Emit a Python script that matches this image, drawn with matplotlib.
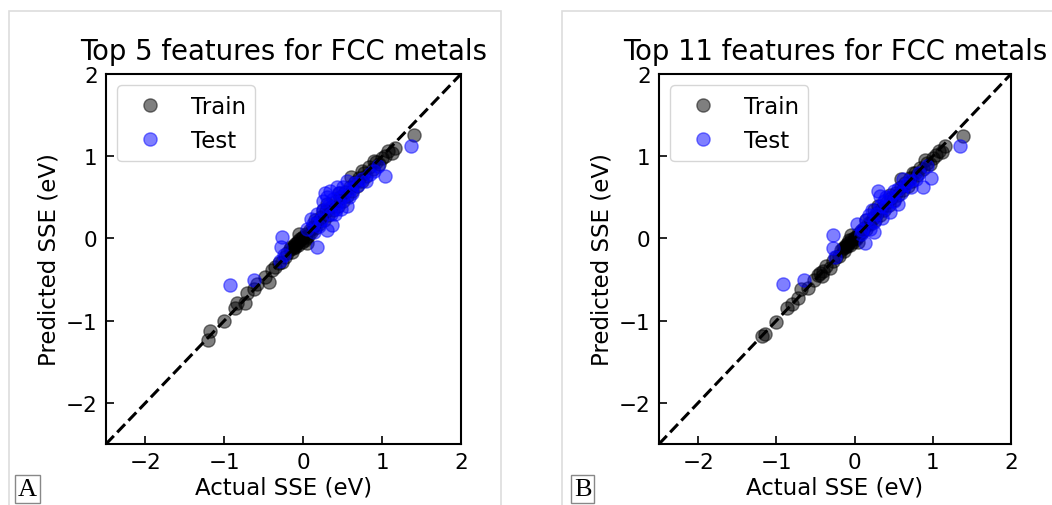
import matplotlib.pyplot as plt
from matplotlib.patches import Rectangle

# Panel A: top 5 features
train_a_actual = [-1.21, -1.18, -1.00, -0.87, -0.84, -0.74, -0.71, -0.62, -0.58, -0.48,
                  -0.43, -0.40, -0.36, -0.31, -0.27, -0.23, -0.20, -0.17, -0.14, -0.12,
                  -0.10, -0.08, -0.06, -0.04, -0.02, 0.00, 0.02, 0.04, 0.06, 0.08,
                  0.10, 0.12, 0.15, 0.18, 0.20, 0.23, 0.26, 0.29, 0.32, 0.35,
                  0.38, 0.41, 0.44, 0.47, 0.50, 0.53, 0.56, 0.59, 0.62, 0.65,
                  0.68, 0.71, 0.74, 0.77, 0.80, 0.84, 0.88, 0.92, 0.96, 1.00,
                  1.04, 1.08, 1.12, 1.16, 1.40, 0.30, 0.45, 0.60, 0.75, 0.90,
                  -0.05, 0.05, 0.15, 0.25, -0.15, -0.11, -0.07, -0.01, 0.03, -0.13]
train_a_pred = [-1.24, -1.13, -1.00, -0.85, -0.78, -0.79, -0.66, -0.62, -0.55, -0.47,
                -0.53, -0.38, -0.35, -0.30, -0.29, -0.22, -0.18, -0.13, -0.16, -0.09,
                -0.11, -0.05, -0.08, -0.01, -0.04, 0.02, -0.02, 0.06, 0.03, 0.10,
                0.08, 0.14, 0.13, 0.20, 0.17, 0.26, 0.22, 0.33, 0.28, 0.38,
                0.34, 0.45, 0.40, 0.50, 0.46, 0.56, 0.52, 0.63, 0.58, 0.69,
                0.64, 0.74, 0.70, 0.80, 0.76, 0.87, 0.84, 0.93, 0.90, 0.98,
                1.00, 1.06, 1.04, 1.10, 1.26, 0.42, 0.55, 0.75, 0.82, 0.94,
                0.05, -0.05, 0.22, 0.35, -0.10, -0.07, -0.03, 0.00, 0.01, -0.12]
test_a_actual = [-0.93, -0.63, -0.27, -0.28, -0.25, -0.30, 0.17, 0.10, 0.05, 0.20,
                 0.25, 0.28, 0.34, 0.43, 0.30, 0.36, 0.40, 0.45, 0.50, 0.55,
                 0.55, 0.60, 0.65, 0.70, 0.75, 0.80, 0.90, 0.95, 1.04, 1.37,
                 0.18, 0.14, 0.42, 0.38, 0.50, 0.62, 0.85, 0.22, 0.32, 0.48,
                 0.25, 0.30, 0.45, 0.35, 0.58, 0.12]
test_a_pred = [-0.57, -0.51, 0.02, -0.10, -0.20, -0.28, -0.10, 0.24, 0.12, 0.15,
               0.35, 0.55, 0.58, 0.62, 0.10, 0.16, 0.30, 0.44, 0.52, 0.40,
               0.70, 0.60, 0.68, 0.65, 0.72, 0.70, 0.82, 0.88, 0.76, 1.13,
               0.30, 0.08, 0.36, 0.48, 0.62, 0.55, 0.78, 0.22, 0.40, 0.36,
               0.45, 0.50, 0.55, 0.30, 0.50, 0.18]

# Panel B: top 11 features
train_b_actual = [-1.18, -1.15, -1.00, -0.86, -0.80, -0.72, -0.68, -0.60, -0.52, -0.47,
                  -0.44, -0.40, -0.36, -0.32, -0.28, -0.24, -0.20, -0.17, -0.14, -0.12,
                  -0.10, -0.08, -0.06, -0.04, -0.02, 0.00, 0.02, 0.04, 0.06, 0.08,
                  0.10, 0.12, 0.15, 0.18, 0.20, 0.23, 0.26, 0.29, 0.32, 0.35,
                  0.38, 0.41, 0.44, 0.47, 0.50, 0.53, 0.56, 0.59, 0.62, 0.65,
                  0.68, 0.71, 0.74, 0.77, 0.80, 0.84, 0.88, 0.92, 0.96, 1.00,
                  1.04, 1.08, 1.12, 1.16, 1.38, 0.30, 0.45, 0.60, 0.75, 0.90,
                  -0.05, 0.05, 0.15, 0.25, -0.15, -0.11, -0.07, -0.01, 0.03, -0.42]
train_b_pred = [-1.19, -1.16, -1.02, -0.85, -0.80, -0.72, -0.62, -0.60, -0.50, -0.44,
                -0.42, -0.40, -0.33, -0.36, -0.27, -0.22, -0.21, -0.14, -0.15, -0.10,
                -0.09, -0.06, -0.08, -0.02, -0.04, 0.01, -0.01, 0.05, 0.04, 0.09,
                0.08, 0.13, 0.12, 0.19, 0.17, 0.25, 0.22, 0.31, 0.29, 0.37,
                0.35, 0.44, 0.41, 0.49, 0.47, 0.55, 0.53, 0.62, 0.59, 0.68,
                0.64, 0.73, 0.70, 0.79, 0.77, 0.86, 0.85, 0.92, 0.91, 0.98,
                1.02, 1.06, 1.05, 1.12, 1.25, 0.40, 0.53, 0.72, 0.80, 0.96,
                0.04, -0.04, 0.22, 0.34, -0.12, -0.08, -0.02, 0.00, 0.02, -0.46]
test_b_actual = [-0.92, -0.64, -0.27, -0.28, -0.25, 0.13, 0.03, 0.08, 0.20, 0.25,
                 0.30, 0.33, 0.28, 0.35, 0.40, 0.45, 0.50, 0.55, 0.55, 0.60,
                 0.65, 0.70, 0.78, 0.87, 0.98, 0.92, 1.35, 0.15, 0.22, 0.38,
                 0.45, 0.62, 0.72, 0.82, 0.10, 0.18, 0.25, 0.32, 0.40, 0.50]
test_b_pred = [-0.56, -0.50, 0.04, -0.12, -0.22, -0.05, 0.17, 0.05, 0.12, 0.08,
               0.58, 0.52, 0.30, 0.25, 0.38, 0.32, 0.45, 0.42, 0.60, 0.55,
               0.65, 0.70, 0.72, 0.62, 0.74, 0.88, 1.13, 0.22, 0.35, 0.45,
               0.50, 0.72, 0.62, 0.80, 0.10, 0.28, 0.20, 0.40, 0.50, 0.58]

titles = ["Top 5 features for FCC metals", "Top 11 features for FCC metals"]
panel_letters = ["A", "B"]
ticks = [-2, -1, 0, 1, 2]
tick_labels = ["\u22122", "\u22121", "0", "1", "2"]
lims = (-2.5, 2)

W, H = 1052, 506
fig = plt.figure(figsize=(W / 100, H / 100), dpi=100)

# light gray frames around each panel
for x0, x1 in [(9, 501), (562, 1060)]:
    fig.patches.append(Rectangle((x0 / W, -0.05), (x1 - x0) / W, (H - 12) / H + 0.05,
                                 transform=fig.transFigure, fill=False,
                                 edgecolor="#dddddd", lw=1.2))

panels = [
    (106, 355, train_a_actual, train_a_pred, test_a_actual, test_a_pred, 14),
    (659, 352, train_b_actual, train_b_pred, test_b_actual, test_b_pred, 569),
]

for i, (left, width, tx, ty, sx, sy, lx) in enumerate(panels):
    ax = fig.add_axes([left / W, 61 / H, width / W, 370 / H])
    ax.plot(tx, ty, "o", color="k", alpha=0.5, markersize=9.5, label="Train")
    ax.plot(sx, sy, "o", color="b", alpha=0.5, markersize=9.5, label="Test")
    ax.plot(lims, lims, "k--", lw=2.2)
    ax.set_xlim(lims)
    ax.set_ylim(lims)
    ax.set_xticks(ticks)
    ax.set_yticks(ticks)
    ax.set_xticklabels(tick_labels)
    ax.set_yticklabels(tick_labels)
    ax.tick_params(direction="in", length=6, width=1.2, labelsize=15.5, pad=6)
    for s in ax.spines.values():
        s.set_linewidth(1.5)
    ax.set_title(titles[i], fontsize=19.8, pad=11)
    ax.set_xlabel("Actual SSE (eV)", fontsize=16.5, labelpad=2)
    ax.set_ylabel("Predicted SSE (eV)", fontsize=16.5, labelpad=4)
    ax.legend(loc="upper left", fontsize=16.5, numpoints=1)

    fig.text((lx + 13.5) / W, 16 / H, panel_letters[i], ha="center", va="center",
             family="Liberation Serif", fontsize=19,
             bbox=dict(boxstyle="square,pad=0.12", fc="white", ec="#888888", lw=1))

fig.savefig("out.png", dpi=100)
